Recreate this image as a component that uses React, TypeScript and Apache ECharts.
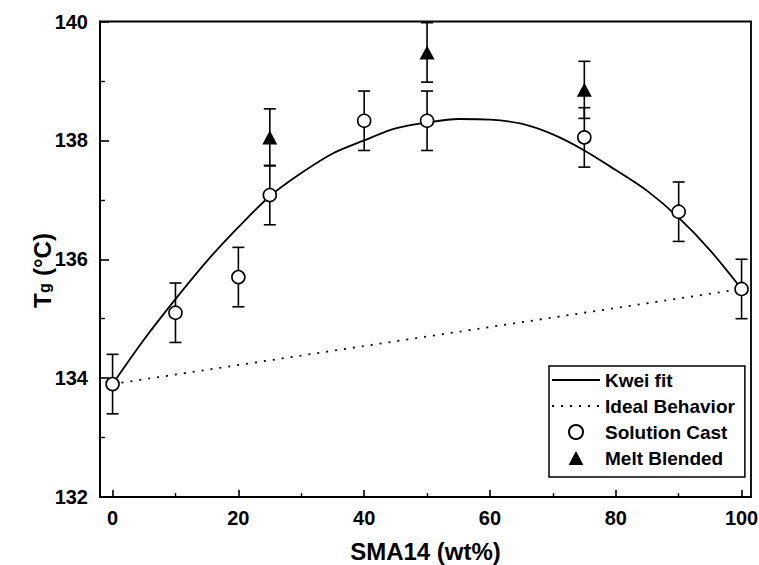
import React, { useEffect, useRef } from "react";
import * as echarts from "echarts";

// Solution Cast data
const scX = [0, 10, 20, 25, 40, 50, 75, 90, 100];
const scY = [133.9, 135.1, 135.7, 137.08, 138.33, 138.33, 138.05, 136.8, 135.5];
const scErr = [0.5, 0.5, 0.5, 0.5, 0.5, 0.5, 0.5, 0.5, 0.5];

// Melt Blended data
const mbX = [25, 50, 75];
const mbY = [138.05, 139.48, 138.85];
const mbErr = [0.48, 0.5, 0.48];

// Kwei fit curve
const fitX = [0, 5, 10, 15, 20, 25, 30, 35, 40, 45, 50, 55, 60, 65, 70, 75, 80, 85, 90, 95, 100];
const fitY = [133.9, 134.65, 135.33, 135.97, 136.54, 137.06, 137.45, 137.78, 138.0, 138.2, 138.3, 138.36, 138.35, 138.28, 138.1, 137.83, 137.5, 137.15, 136.7, 136.15, 135.5];

// Ideal behaviour line
const idealX = [0, 100];
const idealY = [133.9, 135.5];

const xMajorTicks = [0, 20, 40, 60, 80, 100];
const xMinorTicks = [10, 30, 50, 70, 90];

const FONT = "Liberation Sans";

export default function App() {
  const ref = useRef<HTMLDivElement>(null);
  useEffect(() => {
    if (!ref.current) return;
    const chart = echarts.init(ref.current, null, { renderer: "svg" });
    const zip = (a: number[], b: number[]) => a.map((v, i) => [v, b[i]]);
    const errData = (xs: number[], ys: number[], es: number[]) =>
      xs.map((v, i) => [v, ys[i] - es[i], ys[i] + es[i]]);
    const errRender = (params: any, api: any) => {
      const x = api.value(0);
      const lo = api.value(1);
      const hi = api.value(2);
      const p1 = api.coord([x, hi]);
      const p2 = api.coord([x, lo]);
      const w = 6;
      const st = { stroke: "#000", lineWidth: 1.6 };
      return {
        type: "group",
        children: [
          { type: "line", shape: { x1: p1[0], y1: p1[1], x2: p2[0], y2: p2[1] }, style: st },
          { type: "line", shape: { x1: p1[0] - w, y1: p1[1], x2: p1[0] + w, y2: p1[1] }, style: st },
          { type: "line", shape: { x1: p2[0] - w, y1: p2[1], x2: p2[0] + w, y2: p2[1] }, style: st },
        ],
      };
    };
    const option: any = {
      animation: false,
      backgroundColor: "#fff",
      grid: {
        left: 100,
        right: 8,
        top: 21.5,
        bottom: 68,
        show: true,
        borderColor: "#000",
        borderWidth: 1.8,
        containLabel: false,
        outerBoundsMode: "none",
      },
      legend: {
        orient: "vertical",
        left: 549,
        top: 366,
        padding: [4, 10, 9, 2],
        borderColor: "#000",
        borderWidth: 1.5,
        backgroundColor: "#fff",
        itemWidth: 48,
        itemHeight: 14,
        itemGap: 6,
        symbolKeepAspect: true,
        selectedMode: false,
        textStyle: { fontFamily: FONT, fontSize: 19, fontWeight: "bold", color: "#000", lineHeight: 20 },
        data: [
          { name: "Kwei fit", itemStyle: { opacity: 0 } },
          { name: "Ideal Behavior", itemStyle: { opacity: 0 } },
          { name: "Solution Cast" },
          { name: "Melt Blended", icon: "path://M8,0 L16,15 L0,15 Z" },
        ],
      },
      xAxis: [
        {
          type: "value",
          min: -2,
          max: 101.5,
          position: "bottom",
          splitLine: { show: false },
          axisLine: { show: true, onZero: false, lineStyle: { color: "#000", width: 1.8 } },
          axisTick: { show: true, inside: true, length: 7, customValues: xMajorTicks, lineStyle: { color: "#000", width: 1.6 } },
          axisLabel: { customValues: xMajorTicks, color: "#000", fontFamily: FONT, fontSize: 20, fontWeight: "bold", margin: 11 },
          name: "SMA14 (wt%)",
          nameLocation: "middle",
          nameGap: 42,
          nameMoveOverlap: false,
          nameTextStyle: { fontFamily: FONT, fontSize: 24, fontWeight: "bold", color: "#000" },
        },
        {
          type: "value",
          min: -2,
          max: 101.5,
          position: "bottom",
          splitLine: { show: false },
          axisLine: { show: false, onZero: false },
          axisTick: { show: true, inside: true, length: 4, customValues: xMinorTicks, lineStyle: { color: "#000", width: 1.4 } },
          axisLabel: { show: false },
        },
      ],
      yAxis: {
        type: "value",
        min: 132,
        max: 140,
        interval: 2,
        splitLine: { show: false },
        axisLine: { show: true, onZero: false, lineStyle: { color: "#000", width: 1.8 } },
        axisTick: { show: true, inside: true, length: 9, lineStyle: { color: "#000", width: 1.6 } },
        minorTick: { show: true, splitNumber: 2, length: 5, lineStyle: { color: "#000", width: 1.4 } },
        axisLabel: { color: "#000", fontFamily: FONT, fontSize: 20, fontWeight: "bold", margin: 12 },
      },
      graphic: [
        {
          type: "group",
          x: 30,
          y: 308,
          rotation: Math.PI / 2,
          children: [
            { type: "text", x: 0, y: 0, style: { text: "T", fontFamily: FONT, fontSize: 24, fontWeight: "bold", fill: "#000", textBaseline: "alphabetic", textAlign: "left" } },
            { type: "text", x: 15, y: 6, style: { text: "g", fontFamily: FONT, fontSize: 16, fontWeight: "bold", fill: "#000", textBaseline: "alphabetic", textAlign: "left" } },
            { type: "text", x: 32, y: 0, style: { text: "(°C)", fontFamily: FONT, fontSize: 24, fontWeight: "bold", fill: "#000", textBaseline: "alphabetic", textAlign: "left" } },
          ],
        },
      ],
      series: [
        {
          type: "custom",
          name: "scErr",
          renderItem: errRender,
          encode: { x: 0, y: [1, 2] },
          data: errData(scX, scY, scErr),
          z: 1,
          silent: true,
        },
        {
          type: "custom",
          name: "mbErr",
          renderItem: errRender,
          encode: { x: 0, y: [1, 2] },
          data: errData(mbX, mbY, mbErr),
          z: 1,
          silent: true,
        },
        {
          type: "line",
          name: "Kwei fit",
          data: zip(fitX, fitY),
          smooth: 0.3,
          symbol: "none",
          color: "#000",
          lineStyle: { color: "#000", width: 1.8 },
          z: 2,
        },
        {
          type: "line",
          name: "Ideal Behavior",
          data: zip(idealX, idealY),
          symbol: "none",
          color: "#000",
          lineStyle: { color: "#000", width: 1.8, type: [2, 7] },
          z: 2,
        },
        {
          type: "scatter",
          name: "Solution Cast",
          data: zip(scX, scY),
          symbol: "circle",
          symbolSize: 13,
          itemStyle: { color: "#fff", borderColor: "#000", borderWidth: 1.6, opacity: 1 },
          z: 3,
        },
        {
          type: "scatter",
          name: "Melt Blended",
          data: zip(mbX, mbY),
          symbol: "triangle",
          symbolSize: [15, 14],
          itemStyle: { color: "#000", opacity: 1 },
          z: 3,
        },
      ],
    };
    chart.setOption(option);
    return () => chart.dispose();
  }, []);
  return <div ref={ref} style={{ position: "fixed", left: 0, top: 0, width: 759, height: 565, background: "#fff" }} />;
}
